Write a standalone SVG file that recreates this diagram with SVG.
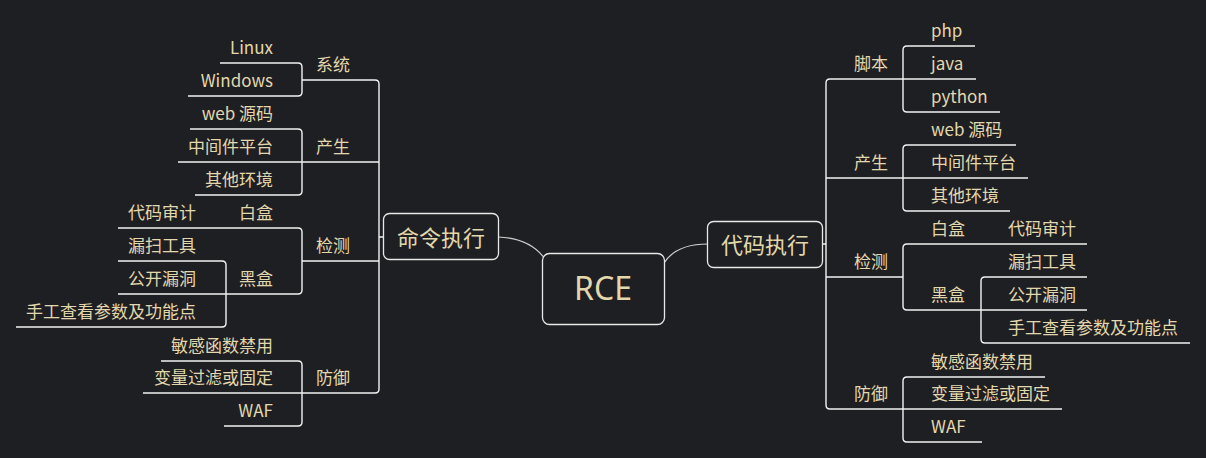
<svg xmlns="http://www.w3.org/2000/svg" width="1206" height="458" viewBox="0 0 1206 458">
<style>
text{font-family:"Noto Sans CJK SC","Noto Sans",sans-serif;fill:#e3d8ad;font-size:17px}
.l{text-anchor:end}
.m{text-anchor:middle}
.main{font-size:22px;text-anchor:middle}
.root{font-size:32px;text-anchor:middle;font-family:"Noto Sans","Noto Sans CJK SC",sans-serif}
.box{fill:#1e1f22;stroke:#e8e8e8;stroke-width:1.3}
.c{fill:none;stroke:#f2f2f2;stroke-width:1.4}
.cv{fill:none;stroke:#cfcfcf;stroke-width:1.2}
</style>
<rect width="1206" height="458" fill="#1e1f22"/>
<g id="connectors">
<path class="cv" d="M498,237 Q530,238 545,259"/>
<path class="cv" d="M664,263 Q676,244 708,244"/>
<path class="c" d="M302,80 H375 Q379,80 379,84 V389 Q379,393 375,393 H302 M302,162 H379 M302,261 H379 M379,237 H383"/>
<path class="c" d="M220,63 H298 Q302,63 302,67 V92 Q302,96 298,96 H188"/>
<path class="c" d="M190,129 H298 Q302,129 302,133 V191 Q302,195 298,195 H195 M178,162 H302"/>
<path class="c" d="M118,228 H298 Q302,228 302,232 V290 Q302,294 298,294 H226"/>
<path class="c" d="M118,261 H222 Q226,261 226,265 V323 Q226,327 222,327 H16 M118,294 H226"/>
<path class="c" d="M161,361 H298 Q302,361 302,365 V422 Q302,426 298,426 H224 M143,393 H302"/>
<path class="c" d="M903,79 H830 Q826,79 826,83 V405 Q826,409 830,409 H903 M826,178 H903 M826,277 H903 M822,244 H826"/>
<path class="c" d="M975,46 H907 Q903,46 903,50 V108 Q903,112 907,112 H1000 M903,79 H976"/>
<path class="c" d="M1016,145 H907 Q903,145 903,149 V207 Q903,211 907,211 H1010 M903,178 H1028"/>
<path class="c" d="M1087,244 H907 Q903,244 903,248 V306 Q903,310 907,310 H981"/>
<path class="c" d="M1087,277 H985 Q981,277 981,281 V339 Q981,343 985,343 H1190 M981,310 H1087"/>
<path class="c" d="M1045,377 H907 Q903,377 903,381 V438 Q903,442 907,442 H982 M903,409 H1062"/>
</g>
<g id="root"><rect class="box" x="542.5" y="253.5" width="122" height="71" rx="7"/><text class="root" x="603" y="300">RCE</text></g>
<g id="cmd"><rect class="box" x="383.5" y="213.5" width="115" height="46" rx="6"/><text class="main" x="441" y="246">命令执行</text></g>
<g id="code"><rect class="box" x="707.5" y="221.5" width="115" height="46" rx="6"/><text class="main" x="765" y="253">代码执行</text></g>
<g id="l-sys"><text class="m" x="333" y="71">系统</text></g>
<g id="l-linux"><text class="l" x="273" y="54">Linux</text></g>
<g id="l-win"><text class="l" x="273" y="87">Windows</text></g>
<g id="l-gen"><text class="m" x="333" y="153">产生</text></g>
<g id="l-web"><text class="l" x="273" y="120">web 源码</text></g>
<g id="l-mid"><text class="l" x="273" y="153">中间件平台</text></g>
<g id="l-oth"><text class="l" x="273" y="186">其他环境</text></g>
<g id="l-det"><text class="m" x="333" y="252">检测</text></g>
<g id="l-white"><text class="l" x="273" y="219">白盒</text></g>
<g id="l-audit"><text class="l" x="196" y="219">代码审计</text></g>
<g id="l-black"><text class="l" x="273" y="285">黑盒</text></g>
<g id="l-scan"><text class="l" x="196" y="252">漏扫工具</text></g>
<g id="l-pub"><text class="l" x="196" y="285">公开漏洞</text></g>
<g id="l-man"><text class="l" x="196" y="318">手工查看参数及功能点</text></g>
<g id="l-def"><text class="m" x="333" y="384">防御</text></g>
<g id="l-ban"><text class="l" x="273" y="352">敏感函数禁用</text></g>
<g id="l-flt"><text class="l" x="273" y="384">变量过滤或固定</text></g>
<g id="l-waf"><text class="l" x="273" y="417">WAF</text></g>
<g id="r-script"><text class="m" x="871" y="70">脚本</text></g>
<g id="r-php"><text x="931" y="37">php</text></g>
<g id="r-java"><text x="931" y="70">java</text></g>
<g id="r-py"><text x="931" y="103">python</text></g>
<g id="r-gen"><text class="m" x="871" y="169">产生</text></g>
<g id="r-web"><text x="931" y="136">web 源码</text></g>
<g id="r-mid"><text x="931" y="169">中间件平台</text></g>
<g id="r-oth"><text x="931" y="202">其他环境</text></g>
<g id="r-det"><text class="m" x="871" y="268">检测</text></g>
<g id="r-white"><text x="931" y="235">白盒</text></g>
<g id="r-audit"><text x="1008" y="235">代码审计</text></g>
<g id="r-black"><text x="931" y="301">黑盒</text></g>
<g id="r-scan"><text x="1008" y="268">漏扫工具</text></g>
<g id="r-pub"><text x="1008" y="301">公开漏洞</text></g>
<g id="r-man"><text x="1008" y="334">手工查看参数及功能点</text></g>
<g id="r-def"><text class="m" x="871" y="400">防御</text></g>
<g id="r-ban"><text x="931" y="368">敏感函数禁用</text></g>
<g id="r-flt"><text x="931" y="400">变量过滤或固定</text></g>
<g id="r-waf"><text x="931" y="433">WAF</text></g>
</svg>
